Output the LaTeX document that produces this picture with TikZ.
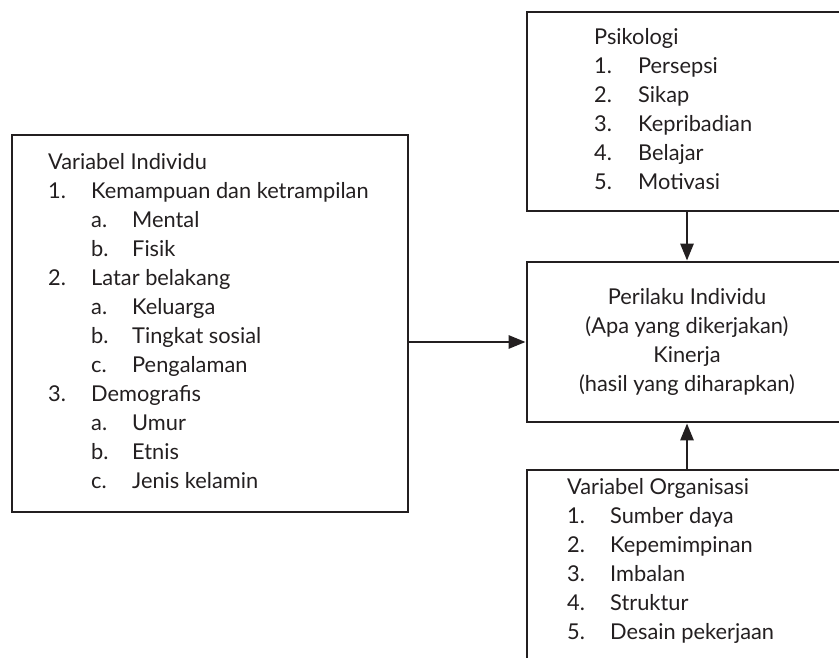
\documentclass[tikz,border=0pt]{standalone}
\usepackage{fontspec}
\setmainfont{Lato}
\usepackage{xcolor}
\usetikzlibrary{arrows.meta, positioning, calc}
\definecolor{ink}{RGB}{35,31,32}
\newcommand{\listfont}{\fontsize{21.8}{29}\selectfont}
\newcommand{\spanrow}[2]{\multicolumn{#1}{@{}l@{}}{#2}}

\begin{document}
\begin{tikzpicture}[x=1pt, y=-1pt,
    box/.style={draw=ink, line width=2.8pt, inner sep=0pt},
    arr/.style={-{Triangle[length=17pt, width=13pt]}, line width=2.8pt, draw=ink},
    lst/.style={anchor=base west, inner sep=0pt, text=ink, font=\listfont}
  ]
    \clip (0,0) rectangle (839,658);

    % boxes
    \node[box, minimum width=396pt, minimum height=377pt] (indiv) at (210,323.5) {};
    \node[box, minimum width=320pt, minimum height=199pt] (psiko) at (687,111.5) {};
    \node[box, minimum width=320pt, minimum height=160pt] (perilaku) at (687,342) {};
    \node[box, minimum width=320pt, minimum height=230pt] (org) at (687,585) {};

    % texts
    \node[lst] (indivtext) at (48,169.5) {\begin{tabular}[t]{@{}p{43pt}@{}p{41pt}@{}l@{}}
      \spanrow{3}{Variabel Individu}\\
      1. & \spanrow{2}{Kemampuan dan ketrampilan}\\
         & a. & Mental\\
         & b. & Fisik\\
      2. & \spanrow{2}{Latar belakang}\\
         & a. & Keluarga\\
         & b. & Tingkat sosial\\
         & c. & Pengalaman\\
      3. & \spanrow{2}{Demografis}\\
         & a. & Umur\\
         & b. & Etnis\\
         & c. & Jenis kelamin
    \end{tabular}};
    \node[lst] (psikotext) at (594,44.5) {\begin{tabular}[t]{@{}p{44pt}@{}l@{}}
      \spanrow{2}{Psikologi}\\
      1. & Persepsi\\
      2. & Sikap\\
      3. & Kepribadian\\
      4. & Belajar\\
      5. & Motivasi
    \end{tabular}};
    \node[lst, anchor=base] (perilakutext) at (687,304.5) {\begin{tabular}[t]{@{}c@{}}
      Perilaku Individu\\
      (Apa yang dikerjakan)\\
      Kinerja\\
      (hasil yang diharapkan)
    \end{tabular}};
    \node[lst] (orgtext) at (567,494.5) {\begin{tabular}[t]{@{}p{43pt}@{}l@{}}
      \spanrow{2}{Variabel Organisasi}\\
      1. & Sumber daya\\
      2. & Kepemimpinan\\
      3. & Imbalan\\
      4. & Struktur\\
      5. & Desain pekerjaan
    \end{tabular}};

    % connectors
    \draw[arr] (psiko) -- (perilaku);
    \draw[arr] (org) -- (perilaku);
    \draw[arr] (indiv.east |- perilaku.west) -- (perilaku.west);
\end{tikzpicture}
\end{document}
